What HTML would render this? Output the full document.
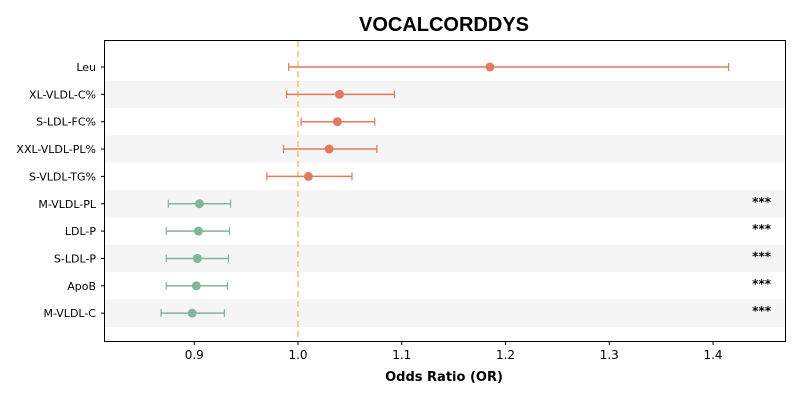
<!DOCTYPE html>
<html><head><meta charset="utf-8"><style>
body{margin:0;background:#fff;}
svg{display:block;font-family:"DejaVu Sans","Liberation Sans",sans-serif;}
</style></head><body>
<svg id="chart" width="800" height="400">
<text x="444" y="31" text-anchor="middle" font-size="20" font-weight="bold" font-family="Liberation Sans, sans-serif">VOCALCORDDYS</text>
<g id="bands"></g>
<g id="marks"></g>
<rect x="104.5" y="40.5" width="681" height="301" fill="none" stroke="#000" stroke-width="1"/>
<g id="axis"></g>
<text x="444" y="381" text-anchor="middle" font-size="13" font-weight="bold">Odds Ratio (OR)</text>
</svg>
<script>
const labels=["Leu","XL-VLDL-C%","S-LDL-FC%","XXL-VLDL-PL%","S-VLDL-TG%","M-VLDL-PL","LDL-P","S-LDL-P","ApoB","M-VLDL-C"];
const orValues=[1.185,1.040,1.038,1.030,1.010,0.905,0.904,0.903,0.902,0.898];
const ciLow=[0.991,0.989,1.003,0.986,0.970,0.875,0.873,0.873,0.873,0.868];
const ciHigh=[1.415,1.093,1.074,1.076,1.052,0.935,0.934,0.933,0.932,0.929];
const sig=["","","","","","***","***","***","***","***"];
const ticks=[0.9,1.0,1.1,1.2,1.3,1.4];
const refValue=1.0;
const NS="http://www.w3.org/2000/svg";
const x=v=>298+(v-1)*1037.5;
const y=i=>67+i*27.35;
function mk(tag,attrs,parent){const e=document.createElementNS(NS,tag);for(const k in attrs)e.setAttribute(k,attrs[k]);parent.appendChild(e);return e;}
const bands=document.getElementById('bands'),marks=document.getElementById('marks'),axis=document.getElementById('axis');
labels.forEach((l,i)=>{
 if(i%2===1){const b=mk('rect',{x:105,y:y(i)-13.7,width:680,height:27.4,fill:'#f5f5f5'},bands);
 
 }
 const t=mk('text',{x:96,y:y(i)+4,'text-anchor':'end','font-size':11},axis);t.textContent=l;
 
 
 mk('line',{x1:101,x2:104,y1:y(i),y2:y(i),stroke:'#000'},axis);
});
const ref=mk('line',{x1:x(refValue),x2:x(refValue),y1:41,y2:341,stroke:'#f5c07a','stroke-width':1.5,'stroke-dasharray':'6,4'},marks);


labels.forEach((l,i)=>{
 const c=orValues[i]>=1?'#e07b5f':'#82b59c';
 const g=mk('g',{},marks);
 
 
 mk('line',{x1:x(ciLow[i]),x2:x(ciHigh[i]),y1:y(i),y2:y(i),stroke:c,'stroke-width':1.5},g);
 mk('line',{x1:x(ciLow[i]),x2:x(ciLow[i]),y1:y(i)-4,y2:y(i)+4,stroke:c,'stroke-width':1.2},g);
 mk('line',{x1:x(ciHigh[i]),x2:x(ciHigh[i]),y1:y(i)-4,y2:y(i)+4,stroke:c,'stroke-width':1.2},g);
 const p=mk('circle',{cx:x(orValues[i]),cy:y(i),r:4.5,fill:c},g);
 
 
 if(sig[i]){const s=mk('text',{x:771,y:y(i)+2,'text-anchor':'end','font-size':12,'font-weight':'bold'},g);s.textContent=sig[i];
 
 }
});
ticks.forEach(t=>{
 mk('line',{x1:x(t),x2:x(t),y1:341,y2:345,stroke:'#000'},axis);
 const tx=mk('text',{x:x(t),y:359,'text-anchor':'middle','font-size':12},axis);tx.textContent=t.toFixed(1);
 
 
});
</script>
</body></html>
